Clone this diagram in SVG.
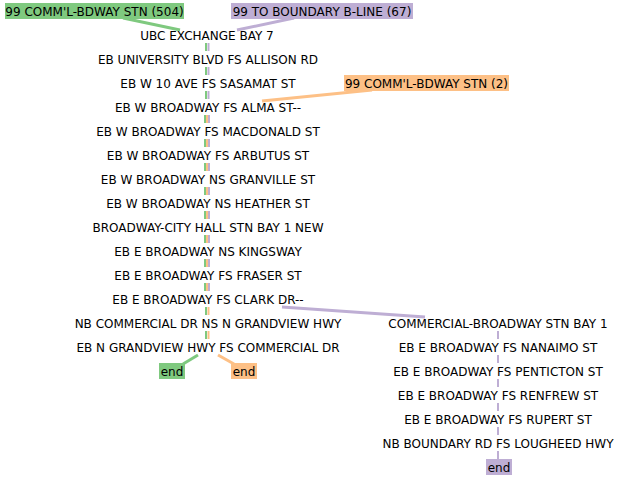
<svg xmlns="http://www.w3.org/2000/svg" width="620" height="480" viewBox="0 0 620 480">
<style>
text{font-family:"DejaVu Sans",sans-serif;font-size:12px;fill:#000;text-anchor:middle}
.g{stroke:#7fc97f}.p{stroke:#beaed4}.o{stroke:#fdc086}
line{stroke-width:2;fill:none}
.l{stroke-width:3}
</style>
<rect width="620" height="480" fill="#fff"/>
<g id="connectors">
<line class="g l" x1="123" y1="18" x2="180" y2="30"/>
<line class="p l" x1="294" y1="18" x2="237" y2="30"/>
<line class="o l" x1="372" y1="90" x2="262" y2="101"/>
<line class="p l" x1="282" y1="307" x2="425" y2="317"/>
<line class="g l" x1="198" y1="355" x2="183" y2="364"/>
<line class="o l" x1="218" y1="355" x2="234" y2="364"/>
<g id="seg2">
<line class="g" x1="206" y1="43" x2="206" y2="51"/><line class="p" x1="208.5" y1="43" x2="208.5" y2="51"/>
<line class="g" x1="206" y1="67" x2="206" y2="75"/><line class="p" x1="208.5" y1="67" x2="208.5" y2="75"/>
<line class="g" x1="206" y1="91" x2="206" y2="99"/><line class="p" x1="208.5" y1="91" x2="208.5" y2="99"/>
</g>
<g id="seg3">
<line class="g" x1="205" y1="115" x2="205" y2="123"/><line class="o" x1="207" y1="115" x2="207" y2="123"/><line class="p" x1="209" y1="115" x2="209" y2="123"/>
<line class="g" x1="205" y1="139" x2="205" y2="147"/><line class="o" x1="207" y1="139" x2="207" y2="147"/><line class="p" x1="209" y1="139" x2="209" y2="147"/>
<line class="g" x1="205" y1="163" x2="205" y2="171"/><line class="o" x1="207" y1="163" x2="207" y2="171"/><line class="p" x1="209" y1="163" x2="209" y2="171"/>
<line class="g" x1="205" y1="187" x2="205" y2="195"/><line class="o" x1="207" y1="187" x2="207" y2="195"/><line class="p" x1="209" y1="187" x2="209" y2="195"/>
<line class="g" x1="205" y1="211" x2="205" y2="219"/><line class="o" x1="207" y1="211" x2="207" y2="219"/><line class="p" x1="209" y1="211" x2="209" y2="219"/>
<line class="g" x1="205" y1="235" x2="205" y2="243"/><line class="o" x1="207" y1="235" x2="207" y2="243"/><line class="p" x1="209" y1="235" x2="209" y2="243"/>
<line class="g" x1="205" y1="259" x2="205" y2="267"/><line class="o" x1="207" y1="259" x2="207" y2="267"/><line class="p" x1="209" y1="259" x2="209" y2="267"/>
<line class="g" x1="205" y1="283" x2="205" y2="291"/><line class="o" x1="207" y1="283" x2="207" y2="291"/><line class="p" x1="209" y1="283" x2="209" y2="291"/>
</g>
<g id="seg2b">
<line class="g" x1="206" y1="307" x2="206" y2="315"/><line class="o" x1="208.5" y1="307" x2="208.5" y2="315"/>
<line class="g" x1="206" y1="331" x2="206" y2="339"/><line class="o" x1="208.5" y1="331" x2="208.5" y2="339"/>
</g>
<g id="seg1">
<line class="p" x1="498" y1="331" x2="498" y2="339"/>
<line class="p" x1="498" y1="355" x2="498" y2="363"/>
<line class="p" x1="498" y1="379" x2="498" y2="387"/>
<line class="p" x1="498" y1="403" x2="498" y2="411"/>
<line class="p" x1="498" y1="427" x2="498" y2="435"/>
<line class="p" x1="498" y1="451" x2="498" y2="459"/>
</g>
</g>
<g id="label-504"><rect x="5" y="3" width="179" height="16" fill="#7fc97f"/><text x="94.5" y="15.5">99 COMM'L-BDWAY STN (504)</text></g>
<g id="label-67"><rect x="231" y="3" width="182" height="16" fill="#beaed4"/><text x="322" y="15.5">99 TO BOUNDARY B-LINE (67)</text></g>
<g id="label-2"><rect x="344" y="75" width="165" height="16" fill="#fdc086"/><text x="426.5" y="87.5">99 COMM'L-BDWAY STN (2)</text></g>
<g id="n1"><text x="207" y="39.5">UBC EXCHANGE BAY 7</text></g>
<g id="n2"><text x="208" y="63.5">EB UNIVERSITY BLVD FS ALLISON RD</text></g>
<g id="n3"><text x="208" y="87.5">EB W 10 AVE FS SASAMAT ST</text></g>
<g id="n4"><text x="208" y="111.5">EB W BROADWAY FS ALMA ST--</text></g>
<g id="n5"><text x="208" y="135.5">EB W BROADWAY FS MACDONALD ST</text></g>
<g id="n6"><text x="208" y="159.5">EB W BROADWAY FS ARBUTUS ST</text></g>
<g id="n7"><text x="208" y="183.5">EB W BROADWAY NS GRANVILLE ST</text></g>
<g id="n8"><text x="208" y="207.5">EB W BROADWAY NS HEATHER ST</text></g>
<g id="n9"><text x="208" y="231.5">BROADWAY-CITY HALL STN BAY 1 NEW</text></g>
<g id="n10"><text x="208" y="255.5">EB E BROADWAY NS KINGSWAY</text></g>
<g id="n11"><text x="208" y="279.5">EB E BROADWAY FS FRASER ST</text></g>
<g id="n12"><text x="208" y="303.5">EB E BROADWAY FS CLARK DR--</text></g>
<g id="n13"><text x="208" y="327.5">NB COMMERCIAL DR NS N GRANDVIEW HWY</text></g>
<g id="n14"><text x="208" y="351.5">EB N GRANDVIEW HWY FS COMMERCIAL DR</text></g>
<g id="end-g"><rect x="159" y="363" width="26" height="16" fill="#7fc97f"/><text x="172" y="375.5">end</text></g>
<g id="end-o"><rect x="231" y="363" width="26" height="16" fill="#fdc086"/><text x="244" y="375.5">end</text></g>
<g id="r1"><text x="498" y="327.5">COMMERCIAL-BROADWAY STN BAY 1</text></g>
<g id="r2"><text x="498" y="351.5">EB E BROADWAY FS NANAIMO ST</text></g>
<g id="r3"><text x="498" y="375.5">EB E BROADWAY FS PENTICTON ST</text></g>
<g id="r4"><text x="498" y="399.5">EB E BROADWAY FS RENFREW ST</text></g>
<g id="r5"><text x="498" y="423.5">EB E BROADWAY FS RUPERT ST</text></g>
<g id="r6"><text x="498" y="447.5">NB BOUNDARY RD FS LOUGHEED HWY</text></g>
<g id="end-p"><rect x="486" y="459" width="26" height="16" fill="#beaed4"/><text x="499" y="471.5">end</text></g>
</svg>
